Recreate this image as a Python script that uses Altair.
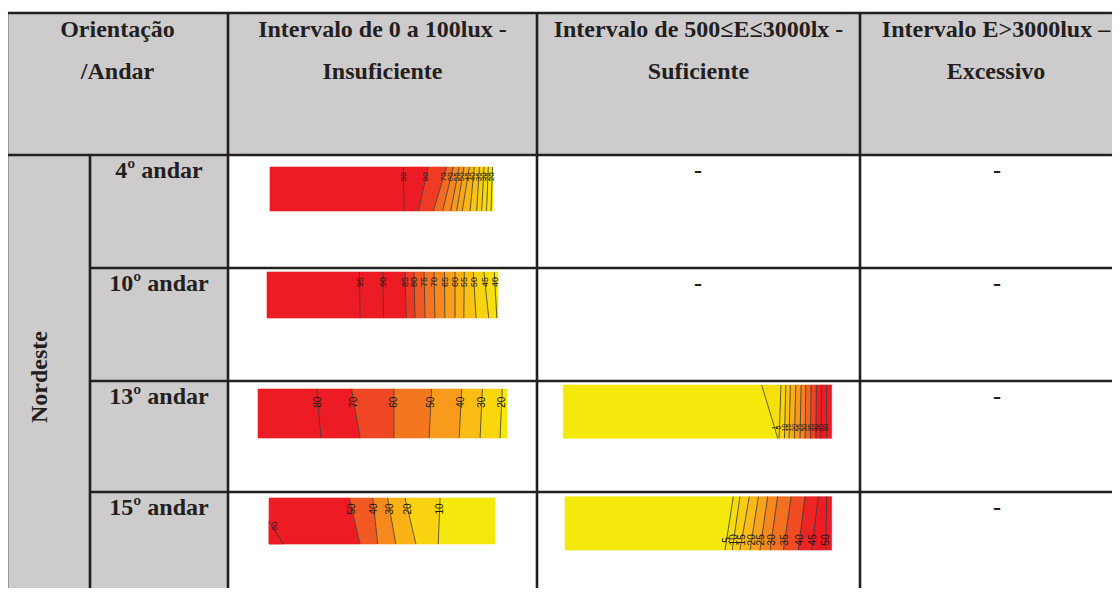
import altair as alt
import pandas as pd

# ------------------------------------------------------------------ content
header_orient = ["Orientação", "/Andar"]
header_ranges = [
    ["Intervalo de 0 a 100lux -", "Insuficiente"],
    ["Intervalo de 500≤E≤3000lx -", "Suficiente"],
    ["Intervalo E>3000lux –", "Excessivo"],
]
orientation = "Nordeste"
floors = ["4º andar", "10º andar", "13º andar", "15º andar"]
empty_mark = "-"
# (floor row, range column) cells that hold no map
empty_cells = [(0, 1), (0, 2), (1, 1), (1, 2), (2, 2), (3, 2)]

# ------------------------------------------------------------------ isolux maps
# contour levels (left -> right) and where each isoline crosses the top and
# the bottom of the room section (fraction of the section depth)
levels_04 = [90, 80, 70, 60, 55, 50, 45, 40, 35, 30, 25, 20]
xtop_04 = [0.598, 0.710, 0.792, 0.822, 0.849, 0.870, 0.894, 0.916, 0.939, 0.960, 0.979, 0.998]
xbot_04 = [0.601, 0.665, 0.732, 0.774, 0.810, 0.837, 0.862, 0.897, 0.927, 0.949, 0.971, 0.991]

levels_10 = [95, 90, 85, 80, 75, 70, 65, 60, 55, 50, 45, 40]
xtop_10 = [0.400, 0.501, 0.597, 0.636, 0.680, 0.723, 0.768, 0.814, 0.854, 0.893, 0.939, 0.984]
xbot_10 = [0.403, 0.505, 0.603, 0.641, 0.684, 0.727, 0.770, 0.814, 0.852, 0.905, 0.960, 0.995]

levels_13 = [80, 70, 60, 50, 40, 30, 20]
xtop_13 = [0.236, 0.376, 0.546, 0.697, 0.818, 0.901, 0.981]
xbot_13 = [0.253, 0.410, 0.546, 0.687, 0.808, 0.892, 0.972]

levels_15 = [50, 40, 30, 20, 10]
xtop_15 = [0.355, 0.459, 0.525, 0.602, 0.757]
xbot_15 = [0.403, 0.481, 0.561, 0.650, 0.749]
corner_15 = {"level": 60, "x_top": 0.0, "y_top": 0.51, "x_bot": 0.063, "y_bot": 1.0}

levels_13s = [1, 5, 10, 15, 20, 25, 30, 35, 40, 45, 50]
xtop_13s = [0.739, 0.811, 0.829, 0.846, 0.866, 0.886, 0.903, 0.923, 0.943, 0.963, 0.981]
xbot_13s = [0.799, 0.804, 0.824, 0.841, 0.861, 0.882, 0.901, 0.921, 0.941, 0.960, 0.980]

levels_15s = [5, 10, 15, 20, 25, 30, 35, 40, 45, 50]
xtop_15s = [0.631, 0.656, 0.691, 0.725, 0.760, 0.797, 0.848, 0.900, 0.950, 0.981]
xbot_15s = [0.600, 0.627, 0.656, 0.694, 0.731, 0.769, 0.819, 0.875, 0.925, 0.978]

maps = [
    {"row": 0, "col": 0, "levels": levels_04, "xtop": xtop_04, "xbot": xbot_04},
    {"row": 1, "col": 0, "levels": levels_10, "xtop": xtop_10, "xbot": xbot_10},
    {"row": 2, "col": 0, "levels": levels_13, "xtop": xtop_13, "xbot": xbot_13},
    {"row": 3, "col": 0, "levels": levels_15, "xtop": xtop_15, "xbot": xbot_15, "corner": corner_15},
    {"row": 2, "col": 1, "levels": levels_13s, "xtop": xtop_13s, "xbot": xbot_13s},
    {"row": 3, "col": 1, "levels": levels_15s, "xtop": xtop_15s, "xbot": xbot_15s},
]

# ------------------------------------------------------------------ layout (page pixels)
W, H = 1104, 580
X0, Y0 = 8, 8
T_L, T_T, T_R = 7, 13, 1134
HEAD_B = 155
COL_SPLIT = 90
COLS = [228, 537, 860, T_R]
ROWS = [HEAD_B, 268, 381, 492, 640]
BASE_OFF = 23
map_boxes = {  # x0, x1, y0, y1, label position (fraction of height), label size
    (0, 0): (270, 493, 167, 211, 0.22, 8),
    (1, 0): (267, 498, 272, 318, 0.22, 9),
    (2, 0): (258, 507, 389, 438, 0.27, 10),
    (3, 0): (269, 495, 498, 544, 0.24, 10),
    (2, 1): (563.3, 831.7, 385, 438.3, 0.80, 7),
    (3, 1): (565, 831.7, 496.7, 550, 0.81, 10),
}

# ------------------------------------------------------------------ build tables
band_rows, line_rows, label_rows = [], [], []
for m in maps:
    x0, x1, y0, y1, ly, _ = map_boxes[(m["row"], m["col"])]
    px = lambda f: x0 + f * (x1 - x0)
    py = lambda f: y0 + f * (y1 - y0)
    lv = m["levels"]
    ext = [2 * lv[0] - lv[1]] + lv + [2 * lv[-1] - lv[-2]]
    vals = [(ext[i] + ext[i + 1]) / 2 for i in range(len(lv) + 1)]
    allv = list(vals)
    c = m.get("corner")
    if c:
        cval = c["level"] + (c["level"] - lv[0]) / 2
        allv.append(cval)
    vmin, vmax = min(allv), max(allv)
    nrm = lambda v: (v - vmin) / (vmax - vmin)
    bt = [0.0] + m["xtop"] + [1.0]
    bb = [0.0] + m["xbot"] + [1.0]
    key = f"{m['row']}-{m['col']}"
    for i, v in enumerate(vals):
        bid = f"{key}-{i:02d}"
        band_rows.append({"band": bid, "y": py(0), "xl": px(bt[i]), "xr": px(bt[i + 1]), "norm": nrm(v)})
        band_rows.append({"band": bid, "y": py(1), "xl": px(bb[i]), "xr": px(bb[i + 1]), "norm": nrm(v)})
    for lvl, ft, fb in zip(lv, m["xtop"], m["xbot"]):
        line_rows.append({"x": px(ft), "y": py(0), "x2": px(fb), "y2": py(1)})
        label_rows.append({"x": px(ft + (fb - ft) * ly), "y": py(ly), "t": str(lvl),
                           "s": map_boxes[(m["row"], m["col"])][5]})
    if c:
        bid = f"{key}-corner"
        band_rows.append({"band": bid, "y": py(c["y_top"]), "xl": px(c["x_top"]), "xr": px(c["x_top"]), "norm": nrm(cval)})
        band_rows.append({"band": bid, "y": py(c["y_bot"]), "xl": px(0), "xr": px(c["x_bot"]), "norm": nrm(cval)})
        line_rows.append({"x": px(c["x_top"]), "y": py(c["y_top"]), "x2": px(c["x_bot"]), "y2": py(c["y_bot"])})
        fy = c["y_top"] + 0.2 * (c["y_bot"] - c["y_top"])
        label_rows.append({"x": px(c["x_top"] + 0.25 * (c["x_bot"] - c["x_top"])) + 2, "y": py(fy),
                           "t": str(c["level"]), "s": 8})

bands = pd.DataFrame(band_rows)
lines = pd.DataFrame(line_rows)
labels = pd.DataFrame(label_rows)

fills = pd.DataFrame([
    {"x": T_L, "x2": T_R, "y": T_T, "y2": HEAD_B},
    {"x": T_L, "x2": COLS[0], "y": HEAD_B, "y2": ROWS[-1]},
])

borders = [{"x": T_L, "x2": T_R, "y": T_T, "y2": T_T},
           {"x": T_L, "x2": T_R, "y": HEAD_B, "y2": HEAD_B}]
for r in ROWS[1:-1]:
    borders.append({"x": COL_SPLIT, "x2": T_R, "y": r, "y2": r})
for cx in [T_L, COLS[0], COLS[1], COLS[2]]:
    borders.append({"x": cx, "x2": cx, "y": T_T, "y2": ROWS[-1]})
borders.append({"x": COL_SPLIT, "x2": COL_SPLIT, "y": HEAD_B, "y2": ROWS[-1]})
borders = pd.DataFrame(borders)

head_centers = [(T_L + COLS[0]) / 2] + [(COLS[i] + COLS[i + 1]) / 2 for i in range(3)]
head_centers[3] = 996
head_rows = []
for cx, lines_txt in zip(head_centers, [header_orient] + header_ranges):
    for k, t in enumerate(lines_txt):
        head_rows.append({"x": cx, "y": 37 + 42 * k, "t": t})
for i, f in enumerate(floors):
    head_rows.append({"x": (COL_SPLIT + COLS[0]) / 2, "y": ROWS[i] + BASE_OFF, "t": f})
dash_x = [698, 997]
for r, cidx in empty_cells:
    head_rows.append({"x": dash_x[cidx - 1] if cidx > 0 else 382, "y": ROWS[r] + BASE_OFF, "t": empty_mark})
texts = pd.DataFrame(head_rows)
orient_df = pd.DataFrame([{"x": 47, "y": 377, "t": orientation}])

# ------------------------------------------------------------------ chart
xs = alt.Scale(domain=[X0, X0 + W], nice=False, zero=False)
ys = alt.Scale(domain=[Y0, Y0 + H], nice=False, zero=False, reverse=True)
cs = alt.Scale(domain=[0, 0.15, 0.3, 0.45, 0.6, 0.72, 0.82, 1.0],
               range=["#F4E90A", "#F9D60F", "#FBBA15", "#F8961D", "#F37021",
                      "#EF4423", "#ED1C24", "#ED1C24"], interpolate="rgb")

ink = "#231F20"

fill_layer = alt.Chart(fills).mark_rect(color="#CECBCC", clip=True).encode(
    x=alt.X("x:Q", scale=xs, axis=None), x2="x2:Q",
    y=alt.Y("y:Q", scale=ys, axis=None), y2="y2:Q")

band_layer = alt.Chart(bands).mark_area(orient="horizontal", strokeWidth=0.6, clip=True).encode(
    y=alt.Y("y:Q", scale=ys, axis=None),
    x=alt.X("xl:Q", scale=xs, axis=None, stack=None), x2="xr:Q",
    color=alt.Color("norm:Q", scale=cs, legend=None),
    stroke=alt.Stroke("norm:Q", scale=cs, legend=None),
    detail="band:N")

line_layer = alt.Chart(lines).mark_rule(color="#3a3a3a", strokeWidth=0.8).encode(
    x=alt.X("x:Q", scale=xs, axis=None), x2="x2:Q",
    y=alt.Y("y:Q", scale=ys, axis=None), y2="y2:Q")

label_layer = alt.Chart(labels).mark_text(angle=270, font="Liberation Sans", color="#1a1a1a",
                                          align="center", baseline="middle").encode(
    x=alt.X("x:Q", scale=xs, axis=None), y=alt.Y("y:Q", scale=ys, axis=None),
    text="t:N", size=alt.Size("s:Q", scale=None, legend=None))

border_layer = alt.Chart(borders).mark_rule(color=ink, strokeWidth=2.6, clip=True).encode(
    x=alt.X("x:Q", scale=xs, axis=None), x2="x2:Q",
    y=alt.Y("y:Q", scale=ys, axis=None), y2="y2:Q")

text_layer = alt.Chart(texts).mark_text(font="Liberation Serif", fontWeight="bold", fontSize=24,
                                        color=ink, align="center", baseline="alphabetic").encode(
    x=alt.X("x:Q", scale=xs, axis=None), y=alt.Y("y:Q", scale=ys, axis=None), text="t:N")

orient_layer = alt.Chart(orient_df).mark_text(font="Liberation Serif", fontWeight="bold", fontSize=24,
                                              color=ink, align="center", baseline="alphabetic",
                                              angle=270).encode(
    x=alt.X("x:Q", scale=xs, axis=None), y=alt.Y("y:Q", scale=ys, axis=None), text="t:N")

chart = alt.layer(fill_layer, band_layer, line_layer, label_layer, border_layer,
                  text_layer, orient_layer).properties(
    width=W, height=H, padding=0, autosize=alt.AutoSizeParams(type="none"),
    background="white"
).configure_view(stroke=None)

chart.save("out.html", embed_options={"renderer": "svg", "actions": False})
